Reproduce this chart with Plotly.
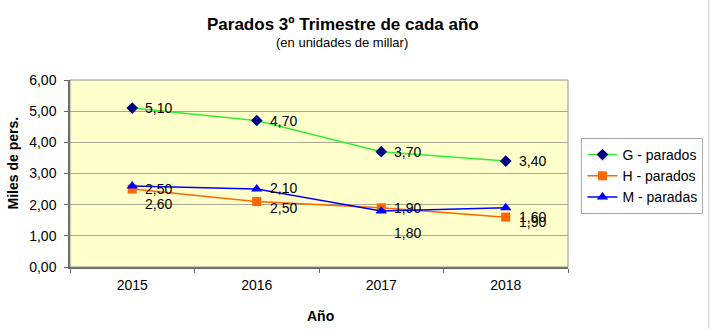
import plotly.graph_objects as go

years = ["2015", "2016", "2017", "2018"]
g_parados = [5.10, 4.70, 3.70, 3.40]
h_parados = [2.50, 2.10, 1.90, 1.60]
m_paradas = [2.60, 2.50, 1.80, 1.90]

series_names = ["G - parados", "H - parados", "M - paradas"]

FONT = "Liberation Sans, Arial, sans-serif"

fig = go.Figure()
fig.add_trace(go.Scatter(x=years, y=g_parados, name=series_names[0], mode="lines+markers",
                         line=dict(color="#33EE33", width=1.5),
                         marker=dict(symbol="diamond", size=9, color="#000080")))
fig.add_trace(go.Scatter(x=years, y=h_parados, name=series_names[1], mode="lines+markers",
                         line=dict(color="#FF6600", width=1.5),
                         marker=dict(symbol="square", size=9, color="#FF6600")))
fig.add_trace(go.Scatter(x=years, y=m_paradas, name=series_names[2], mode="lines+markers",
                         line=dict(color="#0000FF", width=1.5),
                         marker=dict(symbol="triangle-up", size=10, color="#0000FF")))

# data labels (style offsets kept separately)
label_shifts = [
    (g_parados, [0, 0, 0, 0]),
    (h_parados, [0, 14, 0, 0]),
    (m_paradas, [-18, -19, -22, -14]),
]
for vals, shifts in label_shifts:
    for i, (yv, sh) in enumerate(zip(vals, shifts)):
        fig.add_annotation(x=i, y=yv, xref="x", yref="y",
                           text=f"{yv:.2f}".replace(".", ","),
                           showarrow=False, xanchor="left", yanchor="middle",
                           xshift=11, yshift=sh,
                           font=dict(family=FONT, size=14, color="#000000"))

# titles
fig.add_annotation(x=0.5, y=1.0, xref="paper", yref="paper", yanchor="middle",
                   yshift=56, xshift=24,
                   text="<b>Parados 3º Trimestre de cada año</b>", showarrow=False,
                   font=dict(family=FONT, size=17, color="#000000"))
fig.add_annotation(x=0.5, y=1.0, xref="paper", yref="paper", yanchor="middle",
                   yshift=38, xshift=23,
                   text="(en unidades de millar)", showarrow=False,
                   font=dict(family=FONT, size=13, color="#000000"))
fig.add_annotation(x=0.5, y=0, xref="paper", yref="paper", yanchor="middle",
                   yshift=-49, xshift=1,
                   text="<b>Año</b>", showarrow=False,
                   font=dict(family=FONT, size=14, color="#000000"))
fig.add_annotation(x=0, y=0.5, xref="paper", yref="paper", xanchor="center", yanchor="middle",
                   xshift=-58, yshift=10, textangle=-90,
                   text="<b>Miles de pers.</b>", showarrow=False,
                   font=dict(family=FONT, size=14, color="#000000"))

fig.update_layout(
    width=714, height=330,
    margin=dict(l=70, r=145, t=80, b=63),
    paper_bgcolor="#FFFFFF",
    plot_bgcolor="#FFFFCC",
    separators=",.",
    font=dict(family=FONT, size=14, color="#000000"),
    showlegend=True,
    legend=dict(x=1.025, y=0.69, xanchor="left", yanchor="top",
                bordercolor="#A8A8A8", borderwidth=1, bgcolor="#FFFFFF",
                font=dict(family=FONT, size=14), tracegroupgap=0,
                itemwidth=30),
    xaxis=dict(type="category",
               showgrid=False, ticks="outside", tickson="boundaries", ticklen=4,
               tickcolor="#666666", showline=True, linecolor="#666666", linewidth=1.5,
               mirror=False, range=[-0.5, 3.5], tickfont=dict(size=14),
               ticklabelstandoff=4),
    yaxis=dict(range=[0, 6], dtick=1, tickformat=".2f",
               showgrid=True, gridcolor="#A8A890", gridwidth=1,
               ticks="outside", ticklen=4, tickcolor="#666666", tickfont=dict(size=14),
               showline=True, linecolor="#666666", linewidth=1.5, zeroline=False,
               ticklabelstandoff=5),
)
# frame of plot area
fig.add_shape(type="rect", xref="paper", yref="paper", x0=0, y0=0, x1=1, y1=1,
              line=dict(color="#909090", width=1), layer="above")
# chart area right border
fig.add_shape(type="line", xref="paper", yref="paper", x0=1.2826, x1=1.2826, y0=-0.33, y1=1.45,
              line=dict(color="#C8C8C8", width=1))

fig.write_html("out.html")
